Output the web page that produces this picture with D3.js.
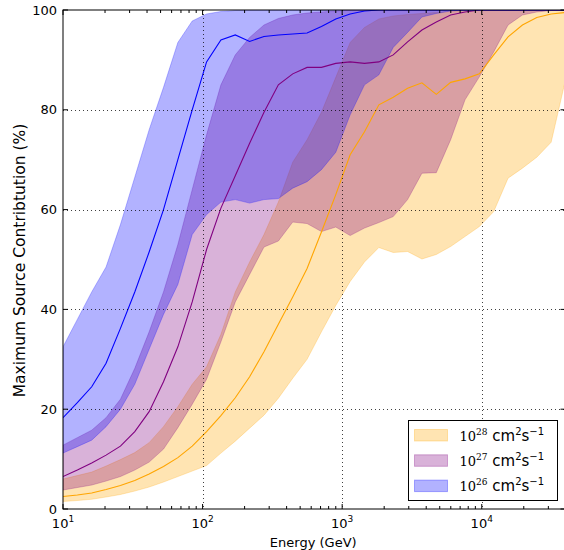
<!DOCTYPE html>
<html>
<head>
<meta charset="utf-8">
<script src="https://cdn.jsdelivr.net/npm/d3@7"></script>
<style>
  body { margin: 0; background: #fff; }
  svg { font-family: "DejaVu Sans", sans-serif; }
  .grid line { stroke: #000; stroke-opacity: 0.75; stroke-dasharray: 1,3; }
</style>
</head>
<body>
<div id="chart"></div>
<script>
(function(){

// energies (GeV), log spaced from 10 to ~4e4
var energy = [10, 12.67, 16.06, 20.35, 25.79, 32.68, 41.41, 52.48, 66.51, 84.28,
	106.8, 135.3, 171.5, 217.3, 275.4, 349.0, 442.3, 560.5, 710.3, 900.1,
	1140.7, 1445.4, 1831.7, 2321.2, 2941.6, 3727.6, 4723.7, 5986, 7585.8, 9613,
	12182, 15437, 19562, 24790, 31415, 39811];

// D = 1e28 cm^2/s
var mid28 = [2.5, 2.8, 3.2, 3.9, 4.7, 5.7, 7.0, 8.5, 10.3, 12.6,
	15.5, 18.7, 22.3, 26.5, 31.5, 37, 42.5, 48.2, 55.5, 63,
	71, 75.6, 81, 82.5, 84.3, 85.4, 83.1, 85.5, 86.2, 87.2,
	91, 94.6, 97, 98.5, 99.2, 99.5];
var lo28 = [1.5, 1.7, 1.95, 2.4, 2.9, 3.6, 4.4, 5.4, 6.5, 7.6,
	8.7, 11.2, 13.6, 16.2, 18.8, 22.2, 26.2, 30, 35.5, 40.8,
	45.6, 49.5, 52.4, 51.4, 51.6, 50.1, 51, 52.6, 54.6, 56.6,
	59.6, 66.3, 68.3, 70.5, 73.5, 86];
var hi28 = [6.0, 6.7, 7.4, 8.6, 9.9, 11.3, 13.3, 16.5, 20.5, 25,
	28.5, 35, 43.5, 49.5, 55, 61.5, 69.5, 74, 79.5, 86.5,
	93.5, 96.5, 98.2, 98.8, 99.1, 99.3, 99.5, 99.7, 99.9, 100,
	100, 100, 100, 100, 100, 100];

// D = 1e27 cm^2/s
var mid27 = [6.5, 7.8, 9.2, 10.8, 12.6, 15.5, 19.5, 25.5, 32.5, 41.5,
	52, 60.3, 66.8, 73.3, 79.5, 85, 87.2, 88.5, 88.5, 89.3,
	89.6, 89.3, 89.6, 91, 93.6, 96, 97.6, 99, 99.6, 100,
	100, 100, 100, 100, 100, 100];
var lo27 = [3.8, 4.3, 4.8, 5.6, 6.5, 7.8, 9.4, 12, 16.3, 21,
	26, 33.5, 41.5, 47, 52.5, 53.7, 57.5, 57.2, 55.6, 56.5,
	54.8, 56.3, 57.4, 58.6, 62, 67.3, 67.4, 74, 82, 86.6,
	91.6, 97, 99, 99.6, 99.9, 100];
var hi27 = [12.8, 14.3, 15.8, 18.3, 22, 28.2, 35.5, 43.5, 53, 64,
	75, 85, 91, 94.5, 97, 98.3, 99, 99.4, 99.6, 99.8,
	100, 100, 100, 100, 100, 100, 100, 100, 100, 100,
	100, 100, 100, 100, 100, 100];

// D = 1e26 cm^2/s
var mid26 = [18.3, 21.3, 24.5, 29.2, 36.2, 43.5, 51.5, 60, 70, 80,
	89.6, 94, 95, 93.7, 94.7, 95, 95.2, 95.4, 96.7, 98.2,
	99.2, 99.8, 100, 100, 100, 100, 100, 100, 100, 100,
	100, 100, 100, 100, 100, 100];
var lo26 = [11.2, 12.5, 13.8, 16.5, 20, 25, 32, 39, 45, 55,
	59, 61.5, 62, 61.3, 62, 62.2, 64.3, 65.6, 68, 71.5,
	79, 85, 87, 92.5, 95.5, 98.6, 99.3, 99.8, 100, 100,
	100, 100, 100, 100, 100, 100];
var hi26 = [32.5, 38, 43.5, 48.5, 57, 66.5, 76, 84.5, 93.5, 97.8,
	99.2, 99.7, 99.9, 100, 100, 100, 100, 100, 100, 100,
	100, 100, 100, 100, 100, 100, 100, 100, 100, 100,
	100, 100, 100, 100, 100, 100];

var seriesNames = ['28', '27', '26'];
var seriesColors = ['#ffa500', '#800080', '#0000ff'];
var yTicks = [0, 20, 40, 60, 80, 100];
var xTicks = [10, 100, 1000, 10000];

var width = 564, height = 550;
var left = 63, right = 565.5, top = 10, bottom = 509;

var x = d3.scaleLog().domain([10, Math.pow(10, 4.6)]).range([left, right]);
var y = d3.scaleLinear().domain([0, 100]).range([bottom, top]);

var svg = d3.select('#chart').append('svg')
	.attr('width', width)
	.attr('height', height);

svg.append('defs').append('clipPath').attr('id', 'plotclip')
	.append('rect')
	.attr('x', left).attr('y', top)
	.attr('width', right - left).attr('height', bottom - top);

var bands = [
	{mid: mid28, lo: lo28, hi: hi28},
	{mid: mid27, lo: lo27, hi: hi27},
	{mid: mid26, lo: lo26, hi: hi26}
];

function rows(b) {
	return energy.map(function(e, i) {
		return {e: e, mid: b.mid[i], lo: b.lo[i], hi: b.hi[i]};
	});
}

var area = d3.area()
	.x(function(d) { return x(d.e); })
	.y0(function(d) { return y(d.lo); })
	.y1(function(d) { return y(d.hi); });

var line = d3.line()
	.x(function(d) { return x(d.e); })
	.y(function(d) { return y(d.mid); });

var plot = svg.append('g').attr('clip-path', 'url(#plotclip)');

// fills first, then the median lines on top
bands.forEach(function(b, i) {
	plot.append('path')
		.datum(rows(b))
		.attr('d', area)
		.attr('fill', seriesColors[i])
		.attr('fill-opacity', 0.3)
		.attr('stroke', seriesColors[i])
		.attr('stroke-opacity', 0.25)
		.attr('stroke-width', 1);
});

bands.forEach(function(b, i) {
	plot.append('path')
		.datum(rows(b))
		.attr('d', line)
		.attr('fill', 'none')
		.attr('stroke', seriesColors[i])
		.attr('stroke-width', 1.1);
});

// dotted grid at major ticks
var grid = svg.append('g').attr('class', 'grid');
grid.selectAll('line.gx').data(xTicks.slice(1)).enter()
	.append('line')
	.attr('x1', function(d) { return Math.round(x(d)) + 0.5; })
	.attr('x2', function(d) { return Math.round(x(d)) + 0.5; })
	.attr('y1', top).attr('y2', bottom);
grid.selectAll('line.gy').data(yTicks.slice(1, -1)).enter()
	.append('line')
	.attr('y1', function(d) { return Math.round(y(d)) + 0.5; })
	.attr('y2', function(d) { return Math.round(y(d)) + 0.5; })
	.attr('x1', left).attr('x2', right);

// minor ticks for the log axis
var minor = [];
xTicks.forEach(function(p) {
	for (var m = 2; m <= 9; m++) {
		if (m * p < x.domain()[1]) minor.push(m * p);
	}
});

var axes = svg.append('g').attr('stroke', '#000').attr('stroke-width', 1);

// inward ticks on all four sides
axes.selectAll('line.xmaj').data(xTicks).enter().append('line')
	.attr('x1', function(d) { return x(d); }).attr('x2', function(d) { return x(d); })
	.attr('y1', bottom).attr('y2', bottom - 5);
axes.selectAll('line.xmajt').data(xTicks).enter().append('line')
	.attr('x1', function(d) { return x(d); }).attr('x2', function(d) { return x(d); })
	.attr('y1', top).attr('y2', top + 5);
axes.selectAll('line.xmin').data(minor).enter().append('line')
	.attr('x1', function(d) { return x(d); }).attr('x2', function(d) { return x(d); })
	.attr('y1', bottom).attr('y2', bottom - 3);
axes.selectAll('line.xmint').data(minor).enter().append('line')
	.attr('x1', function(d) { return x(d); }).attr('x2', function(d) { return x(d); })
	.attr('y1', top).attr('y2', top + 3);
axes.selectAll('line.ymaj').data(yTicks).enter().append('line')
	.attr('y1', function(d) { return y(d); }).attr('y2', function(d) { return y(d); })
	.attr('x1', left).attr('x2', left + 5);
axes.selectAll('line.ymajr').data(yTicks).enter().append('line')
	.attr('y1', function(d) { return y(d); }).attr('y2', function(d) { return y(d); })
	.attr('x1', right).attr('x2', right - 5);

// frame
svg.append('rect')
	.attr('x', left).attr('y', top)
	.attr('width', right - left).attr('height', bottom - top)
	.attr('fill', 'none')
	.attr('stroke', '#000')
	.attr('stroke-width', 1);

// tick labels
svg.append('g').selectAll('text').data(yTicks).enter()
	.append('text')
	.attr('x', left - 6)
	.attr('y', function(d) { return y(d); })
	.attr('dy', '0.36em')
	.attr('text-anchor', 'end')
	.attr('font-size', 13)
	.attr('fill', '#000')
	.text(function(d) { return d; });

var xl = svg.append('g').selectAll('text').data(xTicks).enter()
	.append('text')
	.attr('x', function(d) { return x(d); })
	.attr('y', 528)
	.attr('text-anchor', 'middle')
	.attr('font-size', 13)
	.attr('fill', '#000');
xl.append('tspan').text('10');
xl.append('tspan')
	.attr('dy', -6)
	.attr('font-size', 9)
	.text(function(d) { return Math.round(Math.log10(d)); });

// axis titles
svg.append('text')
	.attr('x', (left + right) / 2 - 1)
	.attr('y', 547)
	.attr('text-anchor', 'middle')
	.attr('font-size', 13)
	.text('Energy (GeV)');

svg.append('text')
	.attr('transform', 'translate(25,260.5) rotate(-90)')
	.attr('text-anchor', 'middle')
	.attr('font-size', 15.5)
	.text('Maximum Source Contribtution (%)');

// legend
var lg = svg.append('g').attr('transform', 'translate(408.5,420.5)');
lg.append('rect')
	.attr('width', 149).attr('height', 80)
	.attr('fill', '#fff')
	.attr('stroke', '#000')
	.attr('stroke-width', 1);

var items = lg.selectAll('g.item').data(seriesNames).enter()
	.append('g')
	.attr('class', 'item')
	.attr('transform', function(d, i) { return 'translate(0,' + (9 + i * 25.3) + ')'; });

items.append('rect')
	.attr('x', 6).attr('y', 0)
	.attr('width', 33).attr('height', 11.5)
	.attr('fill', function(d, i) { return seriesColors[i]; })
	.attr('fill-opacity', 0.3)
	.attr('stroke', function(d, i) { return seriesColors[i]; })
	.attr('stroke-opacity', 0.3);

var lt = items.append('text')
	.attr('x', 51)
	.attr('y', 11)
	.attr('font-size', 15)
	.attr('fill', '#000');
lt.append('tspan').attr('font-family', '"DejaVu Serif", serif').attr('font-size', 13).text('10');
lt.append('tspan').attr('font-family', '"DejaVu Serif", serif').attr('font-size', 9).attr('dy', -6).text(function(d) { return d; });
lt.append('tspan').attr('dy', 6).text('\u00a0cm');
lt.append('tspan').attr('font-size', 10).attr('dy', -6).text('2');
lt.append('tspan').attr('dy', 6).text('s');
lt.append('tspan').attr('font-size', 10).attr('dy', -6).text('\u22121');

})();
</script>
</body>
</html>
